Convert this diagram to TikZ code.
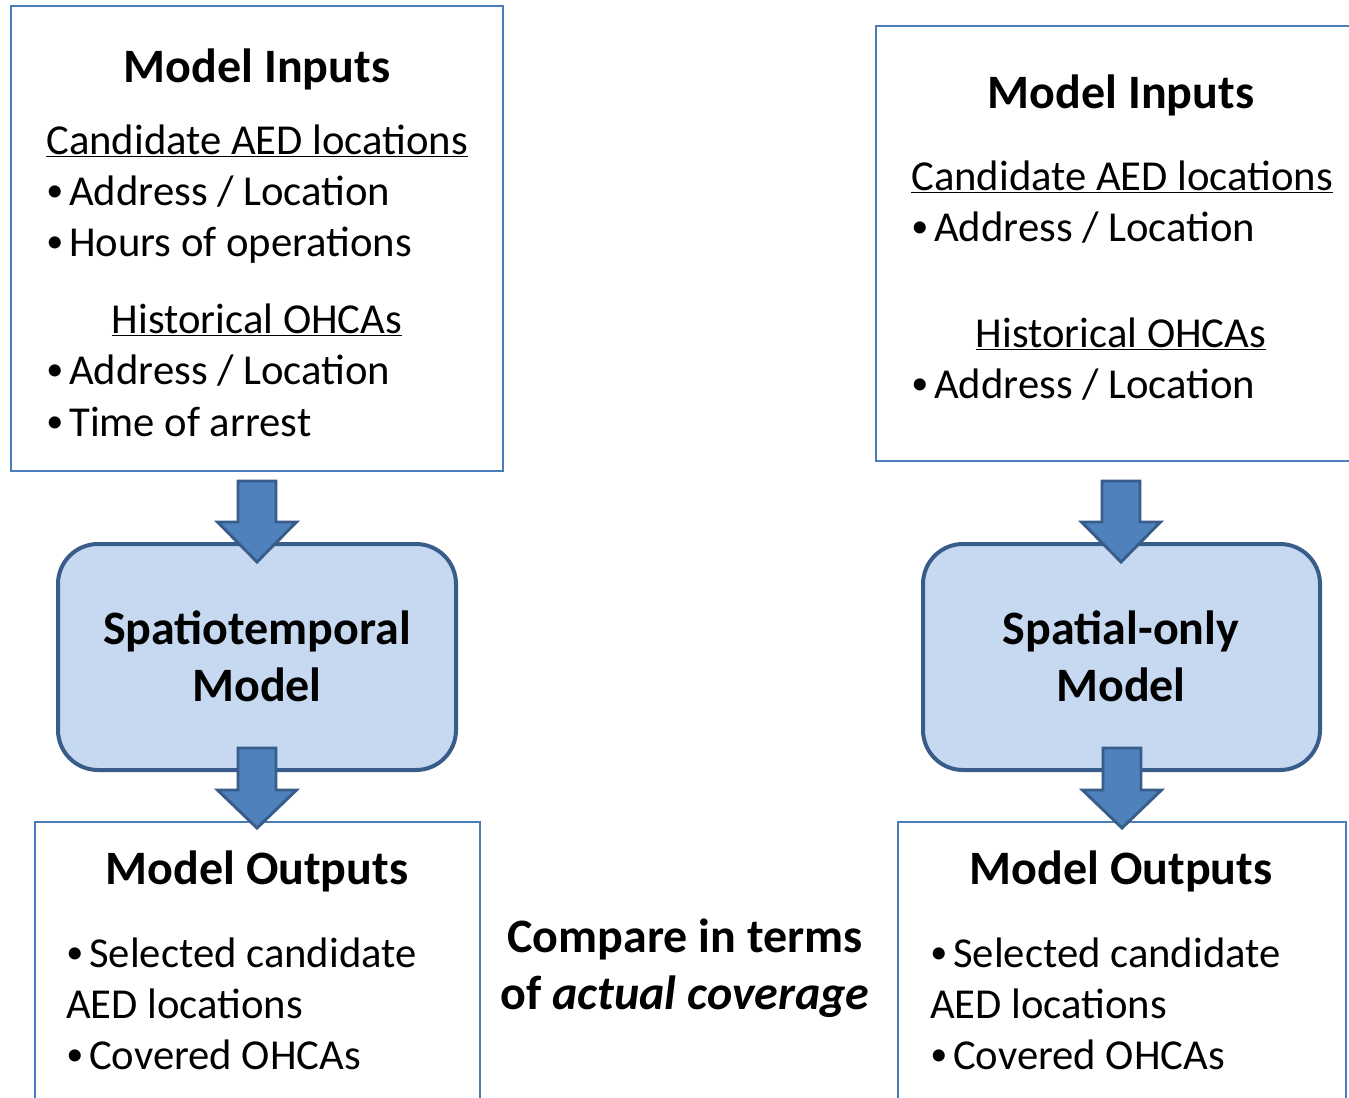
\documentclass[tikz,border=0pt]{standalone}
\usepackage{fontspec}
\setmainfont{Carlito}
\definecolor{boxline}{HTML}{4A7EBB}
\definecolor{procfill}{HTML}{C6D9F1}
\definecolor{procline}{HTML}{385D8A}
\definecolor{arrowfill}{HTML}{4F81BD}
\tikzset{
  inbox/.style={draw=boxline, line width=1.4pt},
  procbox/.style={draw=procline, fill=procfill, line width=3pt, rounded corners=30pt},
  blockarr/.style={draw=procline, fill=arrowfill, line width=2.2pt, line join=miter},
  txt/.style={inner sep=0pt, font=\fontsize{32}{38}\selectfont},
  ttl/.style={inner sep=0pt, font=\fontsize{36}{42.75}\selectfont\bfseries},
}
\newcommand\mybul{\raisebox{0.08em}{\scalebox{0.8}{\textbullet}}\hspace{0.14em}}
\newcommand\myblockarrow[4]{% cx, top, headstart, tip
  \draw[blockarr] (#1-19,#2) -- (#1+19,#2) -- (#1+19,#3) -- (#1+39.5,#3) -- (#1,#4) -- (#1-39.5,#3) -- (#1-19,#3) -- cycle;}
\begin{document}
\begin{tikzpicture}[x=0.75pt,y=-0.75pt]
\clip (0,0) rectangle (1349,1098);
\fill[white] (0,0) rectangle (1349,1098);
% boxes
\draw[inbox] (11,6) rectangle (503,471);
\draw[inbox] (876,26) rectangle (1360,461);
\draw[inbox] (35,822) rectangle (480,1110);
\draw[inbox] (898,822) rectangle (1346,1110);
\draw[procbox] (58,544) rectangle (456,770);
\draw[procbox] (923,544) rectangle (1320,770);
% arrows
\myblockarrow{257}{481}{522}{562}
\myblockarrow{1121}{481}{522}{562}
\myblockarrow{257}{748}{790}{828}
\myblockarrow{1122}{748}{790}{828}
% left inputs
\node[ttl] (li) at (257,69) {Model Inputs};
\node[txt, anchor=mid west] (lc) at (46,151) {\underline{Candidate AED locations}};
\node[txt, anchor=mid west] (la1) at (46,202) {\mybul Address / Location};
\node[txt, anchor=mid west] (la2) at (46,253) {\mybul Hours of operations};
\node[txt, anchor=mid] (lh) at (257,330) {\underline{Historical OHCAs}};
\node[txt, anchor=mid west] (lb1) at (46,381) {\mybul Address / Location};
\node[txt, anchor=mid west] (lb2) at (46,433) {\mybul Time of arrest};
% right inputs
\node[ttl] (ri) at (1121,95) {Model Inputs};
\node[txt, anchor=mid west] (rc) at (911,187) {\underline{Candidate AED locations}};
\node[txt, anchor=mid west] (ra1) at (911,238) {\mybul Address / Location};
\node[txt, anchor=mid] (rh) at (1121,344) {\underline{Historical OHCAs}};
\node[txt, anchor=mid west] (rb1) at (911,395) {\mybul Address / Location};
% process
\node[ttl, align=center] (lp) at (257,656) {Spatiotemporal\\Model};
\node[ttl, align=center] (rp) at (1121,656) {Spatial-only\\Model};
% outputs
\node[ttl] (lo) at (257,871) {Model Outputs};
\node[txt, anchor=mid west] (lo1) at (66,964) {\mybul Selected candidate};
\node[txt, anchor=mid west] (lo2) at (66,1015) {AED locations};
\node[txt, anchor=mid west] (lo3) at (66,1066) {\mybul Covered OHCAs};
\node[ttl] (ro) at (1121,871) {Model Outputs};
\node[txt, anchor=mid west] (ro1) at (930,964) {\mybul Selected candidate};
\node[txt, anchor=mid west] (ro2) at (930,1015) {AED locations};
\node[txt, anchor=mid west] (ro3) at (930,1066) {\mybul Covered OHCAs};
% compare
\node[ttl, align=center] (cmp) at (685,968) {Compare in terms\\of \textit{actual coverage}};
\end{tikzpicture}
\end{document}
